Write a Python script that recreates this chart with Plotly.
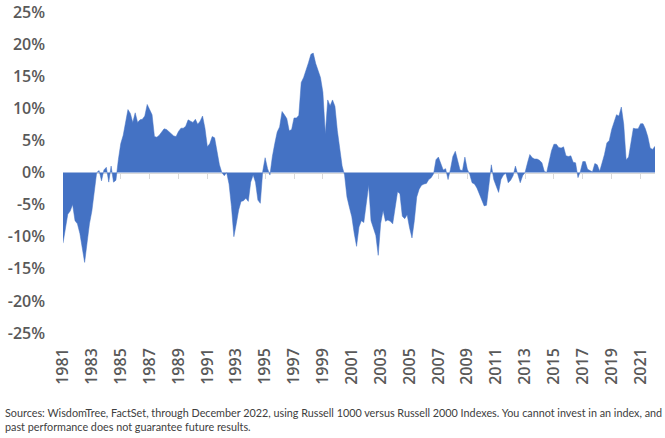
import plotly.graph_objects as go
import pandas as pd

# Relative performance (%), sampled every two months from Dec 1981 to Dec 2022
start_date = "1981-12-01"
values = [
    -11.0, -8.5, -6.5, -6.0, -5.0, -7.5, -8.0, -9.5, -12.0, -14.0,
    -11.0, -8.0, -6.0, -2.5, 0.0, 0.3, -1.3, 0.4, 0.8, -1.5,
    1.0, -1.5, -1.2, 2.0, 4.5, 5.8, 8.0, 9.8, 9.2, 7.8,
    9.3, 7.8, 8.2, 8.3, 8.8, 10.6, 9.8, 9.0, 5.6, 5.5,
    5.8, 6.4, 6.8, 6.7, 6.4, 6.1, 5.7, 5.6, 6.4, 6.9,
    6.9, 7.2, 8.2, 8.0, 7.8, 8.3, 7.5, 8.0, 8.8, 6.9,
    4.0, 4.5, 5.6, 5.4, 3.5, 1.2, 0.0, -0.5, 0.0, -1.8,
    -5.3, -10.0, -8.0, -5.8, -4.5, -4.4, -4.0, -4.5, -1.5, -0.4,
    -1.5, -4.3, -4.8, 0.2, 2.3, 0.6, -0.4, 2.5, 4.5, 6.3,
    7.1, 9.5, 9.0, 8.4, 6.5, 6.7, 8.5, 8.5, 8.9, 14.0,
    14.8, 15.8, 17.1, 18.4, 18.6, 17.0, 16.0, 14.8, 12.5, 6.0,
    11.3, 10.4, 11.3, 10.3, 6.5, 3.9, 1.0, -0.4, -3.8, -5.4,
    -6.9, -9.5, -11.5, -8.5, -7.5, -7.8, -5.0, -2.0, -7.5, -8.5,
    -9.8, -12.9, -8.0, -5.9, -7.6, -7.4, -7.6, -8.0, -5.8, -3.0,
    -3.3, -6.8, -7.2, -6.6, -8.6, -10.2, -7.5, -3.8, -2.6, -2.0,
    -1.8, -1.7, -1.1, -0.8, -0.2, 2.0, 2.4, 1.5, 0.4, 0.6,
    -1.1, 0.5, 2.5, 3.3, 2.0, 0.4, 0.3, 2.4, 0.5, -0.3,
    -1.6, -1.8, -2.4, -3.4, -4.3, -5.2, -5.1, -2.0, 1.2, -1.1,
    -2.1, -3.1, -1.1, -0.4, -0.1, -1.6, -1.2, -0.5, 1.0, -0.4,
    -1.6, -0.5, 0.0, 1.5, 2.8, 2.3, 2.1, 2.1, 1.9, 1.5,
    0.2, 0.0, 1.9, 3.4, 4.4, 4.4, 3.9, 3.8, 4.0, 2.6,
    2.5, 2.6, 1.6, 1.5, -0.8, 0.2, 1.7, 1.7, 0.5, 0.3,
    0.1, 1.4, 1.2, 0.2, 1.4, 2.8, 4.6, 5.0, 6.7, 8.0,
    9.0, 8.8, 10.2, 7.5, 2.0, 2.4, 5.0, 6.9, 6.8, 6.8,
    7.6, 7.6, 6.8, 5.6, 3.8, 3.6, 4.1,
]
tick_years = list(range(1981, 2022, 2))
y_ticks = list(range(-25, 30, 5))
y_tick_labels = [f"{v}%" for v in y_ticks]
footer = ("Sources: WisdomTree, FactSet, through December 2022, using Russell 1000 versus Russell 2000 Indexes. "
          "You cannot invest in an index, and<br>past performance does not guarantee future results.")

dates = pd.date_range(start_date, periods=len(values), freq="2MS")
tick_dates = [f"{y}-12-01" for y in tick_years]
xr = [dates[0], dates[-1]]

BLUE = "#4472C4"
GRAY = "#595959"
FONT = "Open Sans"

fig = go.Figure()
fig.add_trace(go.Scatter(
    x=dates, y=values, mode="lines", fill="tozeroy",
    line=dict(color=BLUE, width=0.5), fillcolor=BLUE,
    hoverinfo="skip", showlegend=False,
))
# helper trace so the zero-line axis (ticks) is drawn
fig.add_trace(go.Scatter(
    x=dates, y=values, mode="lines", xaxis="x2",
    line=dict(color="rgba(0,0,0,0)", width=0),
    hoverinfo="skip", showlegend=False,
))

fig.update_layout(
    width=665, height=438,
    margin=dict(l=63, r=10, t=12, b=105),
    paper_bgcolor="white", plot_bgcolor="white",
    font=dict(family=FONT, color=GRAY),
    xaxis=dict(
        type="date", range=xr, tickvals=tick_dates, ticktext=[str(y) for y in tick_years],
        tickangle=-90, showgrid=False, zeroline=False, showline=False, ticks="",
        tickfont=dict(family=FONT, size=16, color=GRAY, weight=600),
        ticklabelstandoff=11, automargin=False,
    ),
    xaxis2=dict(
        type="date", range=xr, overlaying="x", anchor="free", position=0.5,
        tickvals=tick_dates, showticklabels=False, showgrid=False, zeroline=False,
        showline=True, linecolor="#D9D9D9", linewidth=1,
        ticks="outside", ticklen=5, tickcolor="#D9D9D9", tickwidth=1,
        layer="below traces", automargin=False,
    ),
    yaxis=dict(
        range=[-25, 25], tickvals=y_ticks, ticktext=y_tick_labels,
        showgrid=False, zeroline=False, showline=False, ticks="",
        tickfont=dict(family=FONT, size=16, color=GRAY, weight=600),
        ticklabelstandoff=17, automargin=False,
    ),
    annotations=[dict(
        text=footer, xref="paper", yref="paper", x=-0.101, y=-0.222,
        xanchor="left", yanchor="top", align="left", showarrow=False,
        font=dict(family="Lato", size=10.8, color="#404040"),
    )],
)

fig.write_html("out.html")
